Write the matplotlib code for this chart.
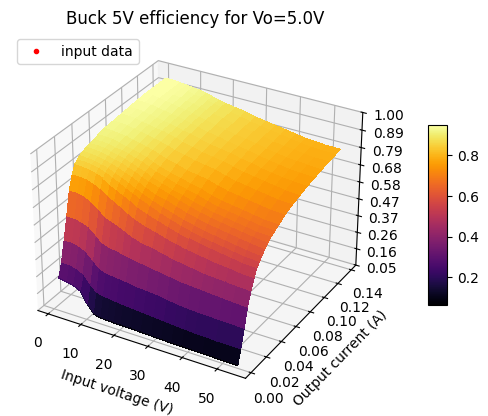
import matplotlib
matplotlib.use("Agg")
import matplotlib.pyplot as plt
import numpy as np
from matplotlib import cm
from matplotlib.ticker import LinearLocator, FormatStrFormatter

vin = [1.5, 4, 6, 8, 10, 12, 14, 16, 18, 20, 23, 26, 29, 32, 35, 38, 41, 44, 47, 50, 54]
iout = [0.001, 0.0015, 0.005, 0.009, 0.013, 0.017, 0.021, 0.024, 0.027, 0.03, 0.034, 0.038,
        0.042, 0.047, 0.052, 0.06, 0.07, 0.08, 0.09, 0.10, 0.11, 0.12, 0.13, 0.137]
# one row per output current, one column per input voltage
eff = [
    [.25, .24, .23, .21, .14, .09, .08, .078, .076, .075, .074, .072, .07, .068, .066, .065, .064, .063, .062, .061, .06],
    [.255, .245, .235, .215, .145, .095, .085, .083, .081, .08, .079, .077, .075, .073, .071, .07, .069, .068, .067, .066, .065],
    [.33, .33, .32, .30, .25, .21, .20, .195, .19, .185, .18, .175, .17, .165, .16, .155, .15, .15, .145, .145, .145],
    [.45, .45, .44, .42, .38, .34, .325, .32, .315, .31, .30, .295, .29, .28, .27, .265, .26, .26, .255, .255, .25],
    [.58, .58, .57, .555, .52, .48, .465, .46, .45, .44, .43, .42, .41, .40, .39, .385, .38, .375, .37, .365, .36],
    [.72, .72, .71, .69, .66, .62, .605, .59, .57, .55, .53, .52, .505, .49, .48, .47, .46, .455, .45, .445, .44],
    [.80, .80, .795, .78, .76, .73, .71, .685, .66, .64, .615, .60, .58, .565, .55, .54, .53, .52, .515, .505, .50],
    [.845, .84, .835, .825, .81, .785, .765, .745, .725, .70, .675, .655, .635, .615, .60, .585, .575, .565, .555, .545, .54],
    [.86, .86, .855, .845, .83, .81, .79, .77, .75, .73, .705, .68, .66, .64, .625, .61, .60, .59, .58, .57, .565],
    [.875, .87, .865, .855, .845, .825, .81, .79, .77, .75, .725, .705, .685, .665, .65, .635, .625, .615, .605, .595, .585],
    [.885, .88, .875, .865, .855, .84, .825, .81, .79, .77, .745, .73, .71, .69, .675, .66, .65, .64, .63, .62, .61],
    [.895, .89, .885, .875, .865, .855, .84, .825, .805, .79, .77, .75, .73, .71, .695, .68, .67, .66, .65, .64, .63],
    [.90, .90, .895, .885, .875, .865, .85, .835, .82, .80, .78, .76, .745, .725, .71, .695, .685, .675, .665, .655, .65],
    [.905, .905, .90, .89, .885, .875, .86, .85, .83, .815, .795, .775, .76, .745, .725, .71, .70, .69, .68, .67, .665],
    [.915, .915, .91, .90, .89, .88, .87, .86, .84, .825, .805, .79, .775, .76, .74, .725, .715, .705, .695, .685, .68],
    [.925, .92, .915, .91, .90, .89, .88, .87, .855, .84, .825, .805, .795, .785, .765, .75, .74, .73, .72, .71, .705],
    [.93, .93, .925, .915, .91, .90, .89, .88, .87, .855, .84, .825, .815, .805, .785, .77, .76, .75, .74, .73, .725],
    [.935, .935, .93, .92, .915, .905, .90, .89, .88, .865, .85, .835, .825, .815, .80, .785, .775, .765, .755, .745, .74],
    [.94, .94, .935, .925, .92, .91, .905, .895, .885, .875, .86, .845, .835, .825, .81, .80, .785, .775, .765, .76, .755],
    [.945, .945, .94, .93, .925, .915, .91, .90, .89, .88, .865, .855, .84, .83, .82, .805, .795, .785, .775, .77, .765],
    [.95, .95, .945, .935, .93, .92, .915, .905, .895, .885, .87, .86, .845, .835, .825, .81, .80, .79, .785, .78, .775],
    [.95, .95, .945, .94, .93, .925, .915, .905, .90, .885, .875, .86, .85, .84, .83, .815, .805, .80, .79, .785, .785],
    [.95, .95, .945, .94, .935, .925, .92, .91, .90, .89, .875, .865, .85, .84, .83, .82, .81, .80, .795, .79, .79],
    [.95, .95, .945, .94, .935, .93, .92, .91, .90, .89, .88, .87, .855, .845, .835, .825, .815, .805, .80, .795, .795],
]


def main():
    x, y = np.meshgrid(vin, iout)
    z = np.array(eff)

    fig = plt.figure(figsize=(6.4, 4.8))
    ax = fig.add_subplot(projection="3d")
    surf = ax.plot_surface(x, y, z, cmap=cm.inferno, linewidth=0, antialiased=False, rcount=50, ccount=50)
    ax.plot([], [], [], "r.", label="input data")

    ax.set_xlim(-3.2, 58)
    ax.set_ylim(-0.007, 0.147)
    ax.set_zlim(0.05, 1.00)
    ax.zaxis.set_major_locator(LinearLocator(10))
    ax.zaxis.set_major_formatter(FormatStrFormatter("%.02f"))
    ax.set_xlabel("Input voltage (V)")
    ax.set_ylabel("Output current (A)")
    ax.set_title("Buck 5V efficiency for Vo=5.0V")
    ax.legend(loc="upper left")
    fig.colorbar(surf, shrink=0.487, aspect=9.5, pad=0.098, fraction=0.102, anchor=(0.0, 0.51))
    plt.savefig("out.png", bbox_inches="tight")


if __name__ == "__main__":
    main()
